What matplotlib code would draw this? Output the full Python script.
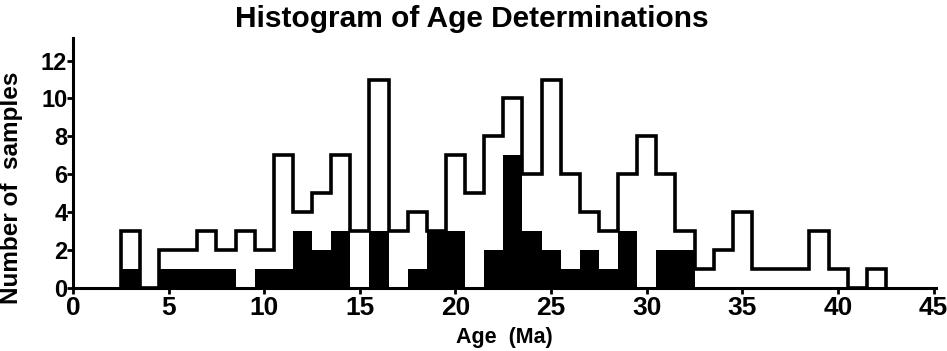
import matplotlib.pyplot as plt
import numpy as np

plt.rcParams['font.family'] = ['Liberation Sans', 'DejaVu Sans']
plt.rcParams['font.weight'] = 'bold'

# 1 Ma bins centred on whole numbers, 3 .. 42 Ma
bin_centers = np.arange(3, 43)
# all samples (open histogram)
total_counts = [3, 0, 2, 2, 3, 2, 3, 2, 7, 4,
                5, 7, 3, 11, 3, 4, 3, 7, 5, 8,
                10, 6, 11, 6, 4, 3, 6, 8, 6, 3,
                1, 2, 4, 1, 1, 1, 3, 1, 0, 1]
# subset (filled black)
subset_counts = [1, 0, 1, 1, 1, 1, 0, 1, 1, 3,
                 2, 3, 0, 3, 0, 1, 3, 3, 0, 2,
                 7, 3, 2, 1, 2, 1, 3, 0, 2, 2,
                 0, 0, 0, 0, 0, 0, 0, 0, 0, 0]

edges = np.append(bin_centers - 0.5, bin_centers[-1] + 0.5)

fig = plt.figure(figsize=(9.47, 3.51), dpi=100)
ax = fig.add_axes([0.077, 0.18, 0.911, 0.712])

# black subset
ax.stairs(subset_counts, edges, fill=True, color='black', zorder=2)
# thin dotted inner edge of the open histogram
ax.stairs(total_counts, edges, color='black', linestyle=':', linewidth=0.8, zorder=2)
# thick outline of the open histogram
ax.stairs(total_counts, edges, color='black', linewidth=2.6, zorder=3)

ax.set_xlim(0, 45.1)
ax.set_ylim(0, 13.2)
ax.set_xticks(np.arange(0, 46, 5))
ax.set_yticks(np.arange(0, 13, 2))

for s in ['top', 'right']:
    ax.spines[s].set_visible(False)
for s in ['left', 'bottom']:
    ax.spines[s].set_linewidth(2.2)

ax.tick_params(axis='x', direction='out', length=4, width=2, pad=2, labelsize=19)
ax.tick_params(axis='y', direction='out', length=4, width=2, pad=0, labelsize=17)

ax.set_xlabel('Age  (Ma)', fontsize=15.5, fontweight='bold', labelpad=5)
ax.set_ylabel('Number of  samples', fontsize=17.5, fontweight='bold')
ax.yaxis.set_label_coords(-0.058, 0.4)

fig.text(0.498, 0.946, 'Histogram of Age Determinations', ha='center', va='center',
         fontsize=21.5, fontweight='bold')

fig.savefig('out.png', dpi=100)
